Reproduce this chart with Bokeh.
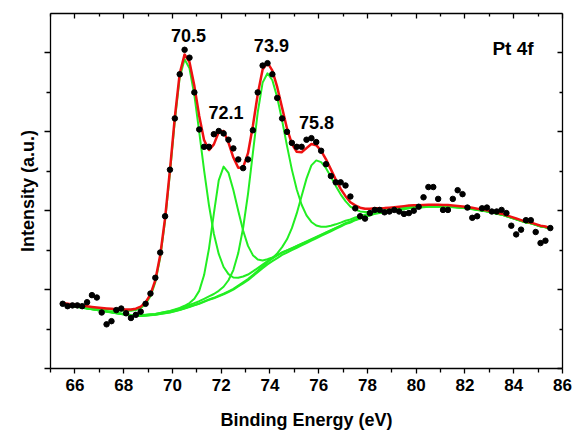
import numpy as np
from bokeh.plotting import figure
from bokeh.models import Range1d, LinearAxis, FixedTicker
from bokeh.embed import file_html
from bokeh.resources import INLINE
from bokeh.core.properties import value

# measured spectrum (binding energy, intensity in tick units)
x_data = [65.5, 65.7, 65.9, 66.1, 66.3, 66.5, 66.7, 66.9, 67.1, 67.3,
          67.5, 67.7, 67.9, 68.1, 68.3, 68.5, 68.7, 68.9, 69.1, 69.3,
          69.5, 69.7, 69.9, 70.1, 70.3, 70.5, 70.7, 70.9, 71.1, 71.3,
          71.5, 71.7, 71.9, 72.1, 72.3, 72.5, 72.7, 72.9, 73.1, 73.3,
          73.5, 73.7, 73.9, 74.1, 74.3, 74.5, 74.7, 74.9, 75.1, 75.3,
          75.5, 75.7, 75.9, 76.1, 76.3, 76.5, 76.7, 76.9, 77.1, 77.3,
          77.5, 77.7, 77.9, 78.1, 78.3, 78.5, 78.7, 78.9, 79.1, 79.3,
          79.5, 79.7, 79.9, 80.1, 80.3, 80.5, 80.7, 80.9, 81.1, 81.3,
          81.5, 81.7, 81.9, 82.1, 82.3, 82.5, 82.7, 82.9, 83.1, 83.3,
          83.5, 83.7, 83.9, 84.1, 84.3, 84.5, 84.7, 84.9, 85.1, 85.3,
          85.5]
y_data = [0.82, 0.79, 0.80, 0.80, 0.79, 0.84, 0.93, 0.90, 0.71, 0.56,
          0.60, 0.74, 0.76, 0.70, 0.64, 0.68, 0.72, 0.82, 0.95, 1.15,
          1.47, 1.93, 2.52, 3.17, 3.73, 4.04, 3.94, 3.50, 3.03, 2.81,
          2.81, 2.97, 3.01, 2.98, 2.90, 2.79, 2.65, 2.54, 2.65, 3.02,
          3.50, 3.84, 3.87, 3.73, 3.43, 3.17, 3.00, 2.86, 2.81, 2.81,
          2.90, 2.92, 2.87, 2.76, 2.59, 2.44, 2.36, 2.36, 2.32, 2.18,
          2.03, 1.93, 1.90, 1.97, 2.01, 2.01, 1.98, 1.99, 2.01, 1.99,
          1.96, 1.97, 2.00, 2.05, 2.17, 2.30, 2.30, 2.15, 2.01, 2.01,
          2.15, 2.26, 2.21, 2.04, 1.91, 1.93, 2.03, 2.04, 1.99, 1.99,
          2.01, 1.97, 1.81, 1.70, 1.76, 1.88, 1.88, 1.73, 1.59, 1.62,
          1.78]
# fitted background read at the same energies
background = [0.81, 0.80, 0.79, 0.78, 0.77, 0.76, 0.75, 0.74, 0.73, 0.72,
              0.71, 0.70, 0.69, 0.68, 0.67, 0.665, 0.665, 0.67, 0.675, 0.68,
              0.69, 0.70, 0.71, 0.725, 0.74, 0.76, 0.78, 0.80, 0.82, 0.845,
              0.87, 0.89, 0.915, 0.94, 0.97, 1.00, 1.04, 1.08, 1.12, 1.17,
              1.22, 1.27, 1.32, 1.36, 1.40, 1.44, 1.47, 1.50, 1.53, 1.56,
              1.59, 1.62, 1.65, 1.68, 1.71, 1.74, 1.77, 1.80, 1.83, 1.85,
              1.88, 1.90, 1.92, 1.94, 1.96, 1.97, 1.98, 1.99, 2.00, 2.01,
              2.02, 2.03, 2.035, 2.04, 2.045, 2.05, 2.05, 2.05, 2.05, 2.05,
              2.045, 2.04, 2.035, 2.03, 2.02, 2.01, 2.00, 1.99, 1.98, 1.96,
              1.95, 1.93, 1.91, 1.89, 1.87, 1.85, 1.84, 1.82, 1.80, 1.79,
              1.77]
# fitted peak components (asymmetric Gaussian-Lorentzian)
peak_labels = ["70.5", "72.1", "73.9", "75.8"]
peak_center = [70.50, 72.08, 73.84, 75.85]
peak_amp = [3.16, 1.62, 2.43, 0.99]
peak_fwhm_low = [1.32, 1.00, 1.37, 1.37]
peak_fwhm_high = [1.67, 1.44, 1.88, 1.84]
lorentz_mix = 0.23

x_ticks = [66, 68, 70, 72, 74, 76, 78, 80, 82, 84, 86]
x_minor = [65, 67, 69, 71, 73, 75, 77, 79, 81, 83, 85]
y_ticks = [0, 1, 2, 3, 4]
y_minor = [0.5, 1.5, 2.5, 3.5]

X = np.array(x_data)
B = np.array(background)


def component(c, a, fl, fh, m):
    f = np.where(X < c, fl, fh)
    u = ((X - c) / f) ** 2
    return a * ((1 - m) * np.exp(-4 * np.log(2) * u) + m / (1 + 4 * u))


comps = [component(peak_center[k], peak_amp[k], peak_fwhm_low[k], peak_fwhm_high[k], lorentz_mix)
         for k in range(4)]
envelope = B + sum(comps)

FONT = "Liberation Sans"
p = figure(width=574, height=432, x_range=Range1d(65, 86), y_range=Range1d(0, 4.5),
           output_backend="svg", toolbar_location=None,
           min_border_left=50, min_border_right=12, min_border_top=13, min_border_bottom=63)
p.outline_line_color = None
p.xgrid.visible = False
p.ygrid.visible = False
p.background_fill_color = "white"
p.border_fill_color = "white"

xt = FixedTicker(ticks=x_ticks, minor_ticks=x_minor)
yt = FixedTicker(ticks=y_ticks, minor_ticks=y_minor)

xa = p.xaxis[0]
xa.ticker = xt
xa.axis_label = "Binding Energy (eV)"
xa.axis_label_text_font = FONT
xa.axis_label_text_font_style = "bold"
xa.axis_label_text_font_size = "18px"
xa.axis_label_text_color = "black"
xa.axis_label_standoff = 16
xa.major_label_text_font = FONT
xa.major_label_text_font_style = "bold"
xa.major_label_text_font_size = "17px"
xa.major_label_text_color = "black"
xa.major_label_standoff = 5
xa.major_tick_out = 5
xa.major_tick_in = 0
xa.minor_tick_out = 4
xa.minor_tick_in = 0

ya = p.yaxis[0]
ya.ticker = yt
ya.axis_label = "Intensity (a.u.)"
ya.axis_label_text_font = FONT
ya.axis_label_text_font_style = "bold"
ya.axis_label_text_font_size = "18px"
ya.axis_label_text_color = "black"
ya.axis_label_standoff = 7
ya.major_label_text_font_size = "0px"
ya.major_label_text_color = None
ya.major_label_standoff = 0
ya.major_tick_out = 6
ya.major_tick_in = 0
ya.minor_tick_out = 4
ya.minor_tick_in = 0

top = LinearAxis(ticker=xt, major_label_text_font_size="0px", major_label_text_color=None,
                 major_label_standoff=0,
                 major_tick_in=5, major_tick_out=0, minor_tick_in=3, minor_tick_out=0)
right = LinearAxis(ticker=yt, major_label_text_font_size="0px", major_label_text_color=None,
                   major_label_standoff=0,
                   major_tick_in=5, major_tick_out=0, minor_tick_in=3, minor_tick_out=0)
p.add_layout(top, "above")
p.add_layout(right, "right")
for ax in [xa, ya, top, right]:
    ax.axis_line_color = "black"
    ax.axis_line_width = 1.3
    ax.major_tick_line_color = "black"
    ax.minor_tick_line_color = "black"
    ax.major_tick_line_width = 1.3
    ax.minor_tick_line_width = 1.3

RED = "#EE1111"
GREEN = "#22EE22"
for c in comps:
    p.line(X, B + c, line_color=GREEN, line_width=2, line_join="round")
p.line(X, B, line_color=GREEN, line_width=2, line_join="round")
p.line(X, envelope, line_color=RED, line_width=2.5, line_join="round")
p.scatter(X, np.array(y_data), size=5.5, color="black")

lab_x = [70.66, 72.20, 74.06, 75.91]
lab_y = [4.22, 3.24, 4.10, 3.12]
p.text(lab_x, lab_y, text=peak_labels, text_font=value(FONT), text_font_style="bold",
       text_font_size="18px", text_align="center", text_baseline="middle", text_color="black")
p.text([83.97], [4.06], text=["Pt 4f"], text_font=value(FONT), text_font_style="bold",
       text_font_size="19px", text_align="center", text_baseline="middle", text_color="black")

open("out.html", "w").write(file_html(p, INLINE))
